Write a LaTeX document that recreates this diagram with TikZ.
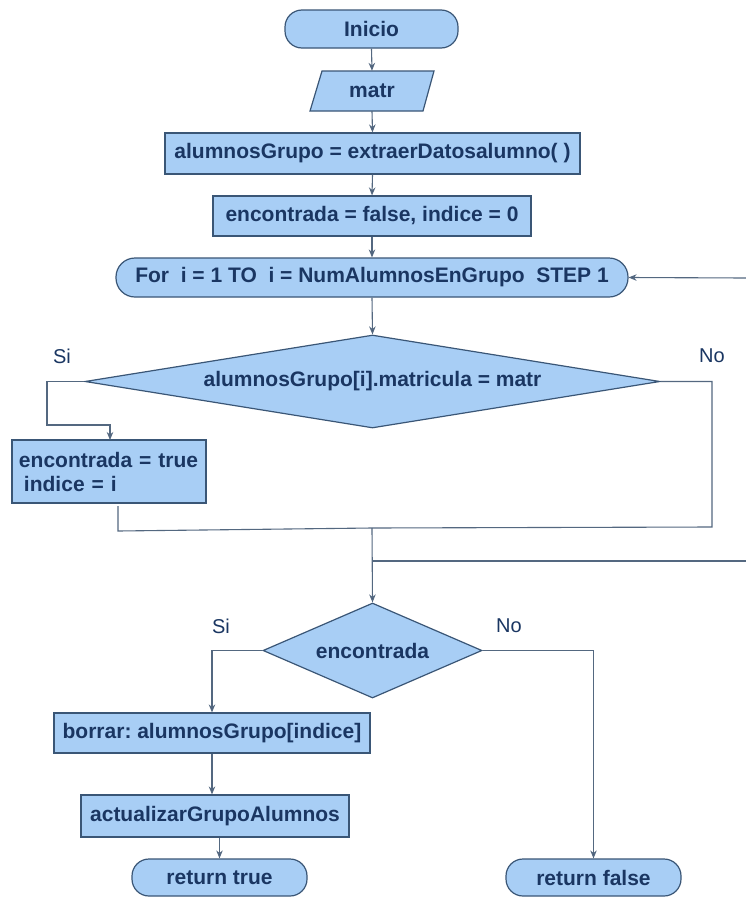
\documentclass[tikz,border=0pt]{standalone}
\usepackage{fontspec}
\setmainfont{Liberation Sans}
\newfontfamily\boldf{Liberation Sans Bold}
\usetikzlibrary{shapes.geometric,arrows.meta}
\frenchspacing
\definecolor{boxfill}{RGB}{168,206,245}
\definecolor{boxdraw}{RGB}{58,86,118}
\definecolor{txt}{RGB}{26,54,98}
\definecolor{conn}{RGB}{84,104,128}
\tikzset{
  base/.style={fill=boxfill,draw=boxdraw,line width=1.2pt,inner sep=0pt,
    text=txt,font=\boldf\fontsize{21}{24}\selectfont},
  procbox/.style={base,rectangle},
  termbox/.style={base,rectangle,rounded corners=17pt},
  decbox/.style={base,diamond},
  conline/.style={draw=conn,line width=1.1pt},
  arr/.style={conline,-{Stealth[length=8pt,width=6.5pt,fill=txt]}},
  lbl/.style={text=txt,font=\fontsize{20}{24}\selectfont,inner sep=0pt}
}
\begin{document}
\begin{tikzpicture}[x=1pt,y=-1pt]
\useasboundingbox (0,0) rectangle (746,897);
\fill[white] (0,0) rectangle (746,897);
% nodes
\node[termbox,minimum width=173pt,minimum height=38pt] (inicio) at (371.5,29) {Inicio};
\fill[boxfill,draw=boxdraw,line width=1.2pt] (310,111)--(322,71)--(434,71)--(423,111)--cycle;
\node[inner sep=0pt,text=txt,font=\boldf\fontsize{21}{24}\selectfont,minimum width=100pt,minimum height=40pt] (matr) at (372,91) {matr};
\node[procbox,minimum width=415pt,minimum height=41pt] (alum) at (372.5,153.5) {alumnosGrupo = extraerDatosalumno( )};
\node[procbox,minimum width=318pt,minimum height=40pt] (init) at (372,216) {encontrada = false, indice = 0};
\node[termbox,rounded corners=19pt,minimum width=512pt,minimum height=39pt] (for) at (372,277.5) {For\ \ i = 1 TO\ \ i = NumAlumnosEnGrupo\ \ STEP 1};
\node[decbox,aspect=6.2,minimum width=575pt,minimum height=93pt] (dec1) at (372.5,381.5) {alumnosGrupo[i].matricula = matr};
\node[procbox,align=left,text width=180pt,inner xsep=7pt,minimum height=63pt] (tru) at (109,471.5) {encontrada = true\\\hspace*{5pt}indice = i};
\node[decbox,aspect=2.3,minimum width=219pt,minimum height=95pt] (dec2) at (372.5,650.5) {encontrada};
\node[procbox,minimum width=316pt,minimum height=40pt] (borrar) at (212,733) {borrar: alumnosGrupo[indice]};
\node[procbox,minimum width=268pt,minimum height=42pt] (act) at (215,816) {actualizarGrupoAlumnos};
\node[termbox,minimum width=175pt,minimum height=37pt] (rtrue) at (219.5,877.5) {return true};
\node[termbox,minimum width=175pt,minimum height=37pt] (rfalse) at (593.5,877.5) {return false};
% labels
\node[lbl] (si1) at (62,356) {Si};
\node[lbl] (no1) at (712,356) {No};
\node[lbl] (si2) at (221,626) {Si};
\node[lbl] (no2) at (509,626) {No};
% coordinates
\coordinate (loopin) at (746,278);
\coordinate (loopout) at (746,561);
\coordinate (merge) at (372,528);
% connectors
\draw[arr] (inicio.south) -- (matr.north);
\draw[arr] (matr.south) -- (alum.north);
\draw[arr] (alum.south) -- (init.north);
\draw[arr] (init.south) -- (for.north);
\draw[arr] (for.south) -- (dec1.north);
\draw[arr] (loopin) -- (for.east);
\draw[arr] (dec1.west) -- (47,381.5) -- (47,425) -- (110,425) -- (110,440);
\draw[conline] (dec1.east) -- (712,381.5) -- (712,527) -- (merge);
\draw[conline] (118,506) -- (118,531) -- (merge);
\draw[conline] (372,561) -- (loopout);
\draw[arr] (merge) -- (dec2.north);
\draw[arr] (dec2.west) -- (borrar.north |- dec2.west) -- (borrar.north);
\draw[arr] (borrar.south) -- (borrar.south |- act.north);
\draw[arr] (rtrue.north |- act.south) -- (rtrue.north);
\draw[arr] (dec2.east) -- (rfalse.north |- dec2.east) -- (rfalse.north);
\end{tikzpicture}
\end{document}
